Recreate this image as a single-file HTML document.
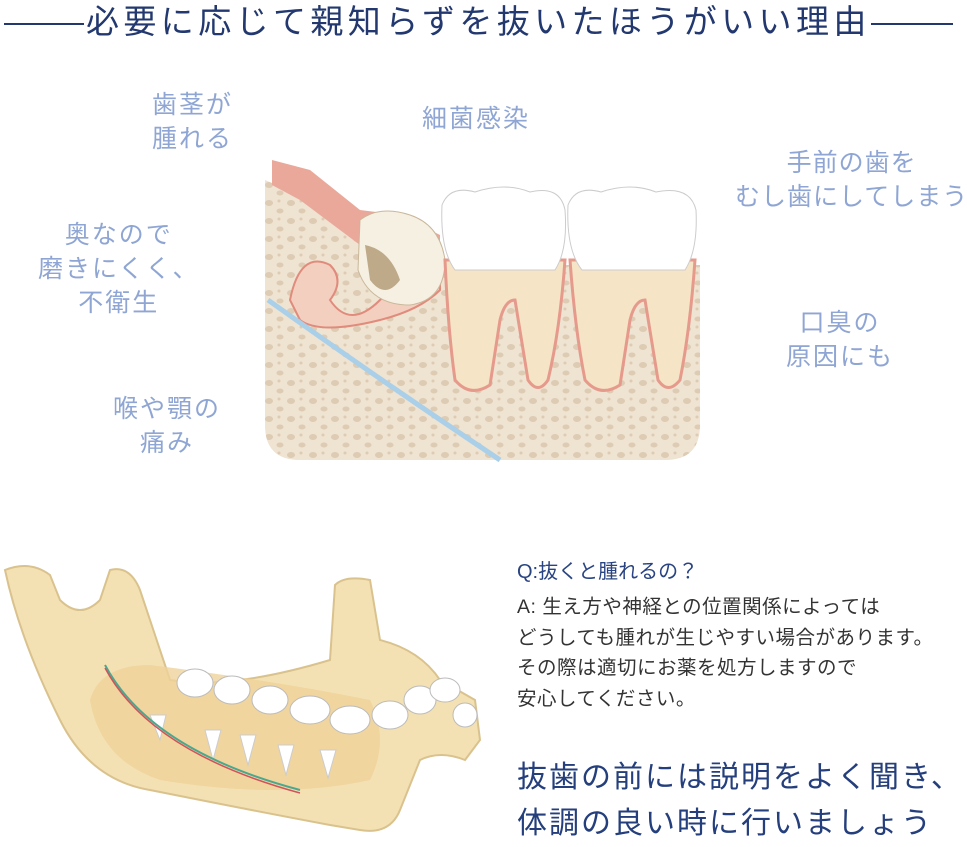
<!DOCTYPE html>
<html><head><meta charset="utf-8"><style>
body{margin:0;width:967px;height:846px;background:#fff;position:relative;overflow:hidden;font-family:"Liberation Sans","Noto Sans CJK JP",sans-serif}
.t{position:absolute;white-space:nowrap}
.lb{color:#8fa6d4;font-size:25px;line-height:34px;text-align:center;letter-spacing:2px}
</style></head><body>
<div class="t" style="left:4px;top:2px;font-size:33px;line-height:40px;color:#22386f;letter-spacing:4.4px">
<span style="display:inline-block;width:80px;border-top:2px solid #22386f;vertical-align:middle;margin-right:2px"></span>必要に応じて親知らずを抜いたほうがいい理由<span style="display:inline-block;width:82px;border-top:2px solid #22386f;vertical-align:middle"></span></div>

<div class="t lb" style="left:152px;top:88px">歯茎が<br>腫れる</div>
<div class="t lb" style="left:422px;top:102px">細菌感染</div>
<div class="t lb" style="left:735px;top:146px;letter-spacing:1px">手前の歯を<br>むし歯にしてしまう</div>
<div class="t lb" style="left:38px;top:218px">奥なので<br>磨きにくく、<br>不衛生</div>
<div class="t lb" style="left:786px;top:306px">口臭の<br>原因にも</div>
<div class="t lb" style="left:113px;top:392px">喉や顎の<br>痛み</div>

<svg class="t" style="left:0;top:0" width="967" height="846">
<defs><pattern id="d" width="22" height="18" patternUnits="userSpaceOnUse"><ellipse cx="5" cy="5" rx="4" ry="3" fill="#ddcbb3"/><ellipse cx="16" cy="13" rx="3.5" ry="2.5" fill="#ddcbb3"/><circle cx="15" cy="3" r="1.5" fill="#ddcbb3"/></pattern></defs>
<path d="M265 180 L300 195 L355 240 L440 240 L440 265 L700 265 L700 425 Q700 460 665 460 L300 460 Q265 460 265 425 Z" fill="#efe3d1"/>
<path d="M265 180 L300 195 L355 240 L440 240 L440 265 L700 265 L700 425 Q700 460 665 460 L300 460 Q265 460 265 425 Z" fill="url(#d)"/>
<path d="M272 160 L310 170 L360 210 L400 215 L440 235 L440 260 L360 245 L300 200 L272 185Z" fill="#e9a89a"/>
<path d="M290 300 Q300 250 330 265 Q345 280 330 300 Q350 330 380 300 L420 260 L440 260 L440 290 Q420 310 380 320 Q320 335 300 320Z" fill="#f3cfc0" stroke="#e08b7c" stroke-width="2"/>
<path d="M360 220 Q380 205 410 215 Q440 225 445 260 Q445 300 410 305 Q370 305 358 270Z" fill="#f6f0e2" stroke="#c9b79a"/>
<path d="M365 245 Q390 250 400 280 Q385 300 370 280Z" fill="#9a7a4f" opacity=".6"/>
<path d="M268 300 Q380 380 500 460" stroke="#a9cfe9" stroke-width="5" fill="none"/>
<g fill="#f6e4c6" stroke="#e59a8c" stroke-width="3">
<path d="M445 260 L565 260 Q560 330 548 380 Q538 395 528 380 L515 300 Q505 300 500 320 L490 385 Q470 398 455 380 Q448 330 445 260Z"/>
<path d="M570 260 L695 260 Q690 330 680 380 Q668 395 658 380 L645 300 Q635 300 630 320 L620 385 Q600 398 585 380 Q575 330 570 260Z"/>
</g>
<path d="M442 205 Q450 185 475 192 Q505 182 530 192 Q560 185 565 210 Q568 250 555 270 L455 270 Q440 250 442 205Z" fill="#fff" stroke="#ccc"/>
<path d="M568 205 Q576 185 601 192 Q631 182 656 192 Q690 185 696 210 Q698 250 685 270 L582 270 Q566 250 568 205Z" fill="#fff" stroke="#ccc"/>

<path d="M5 570 Q30 560 50 575 L60 600 Q80 620 100 600 L110 570 Q130 565 140 590 L170 680 Q230 690 330 660 L335 585 Q345 575 370 580 L380 640 Q420 650 440 680 L475 700 L480 740 L465 760 Q440 750 420 760 L400 810 Q390 835 360 830 L330 825 Q250 810 150 790 Q90 780 60 720 Q20 640 5 570Z" fill="#f4e1b3" stroke="#d9c28d" stroke-width="2"/>
<path d="M90 700 Q100 665 150 665 Q270 680 370 700 Q390 740 370 780 Q280 800 160 780 Q100 760 90 700Z" fill="#efd29a" opacity=".8"/>
<g fill="#fff" stroke="#ccc"><path d="M205 730 l8 30 l8 -30Z"/><path d="M240 735 l8 30 l8 -30Z"/><path d="M278 745 l8 30 l8 -30Z"/><path d="M320 750 l8 28 l8 -28Z"/><path d="M150 715 l10 25 l6 -25Z"/></g>
<path d="M105 665 Q150 750 300 790" stroke="#4aa88f" stroke-width="2" fill="none"/>
<path d="M105 668 Q150 752 300 793" stroke="#d0525a" stroke-width="1.5" fill="none"/>
<g fill="#fff" stroke="#bbb"><ellipse cx="195" cy="683" rx="18" ry="14"/><ellipse cx="232" cy="690" rx="18" ry="14"/><ellipse cx="270" cy="700" rx="18" ry="14"/><ellipse cx="310" cy="710" rx="20" ry="14"/><ellipse cx="350" cy="720" rx="20" ry="14"/><ellipse cx="390" cy="715" rx="18" ry="14"/><ellipse cx="420" cy="700" rx="16" ry="14"/><ellipse cx="445" cy="690" rx="15" ry="12"/><ellipse cx="465" cy="715" rx="12" ry="12"/></g>
</svg>

<div class="t" style="left:517px;top:558px;font-size:20px;line-height:28px;color:#2a4482">Q:抜くと腫れるの？</div>
<div class="t" style="left:517px;top:592px;font-size:19.5px;line-height:30.5px;color:#333;letter-spacing:0.5px">A: 生え方や神経との位置関係によっては<br>どうしても腫れが生じやすい場合があります。<br>その際は適切にお薬を処方しますので<br>安心してください。</div>
<div class="t" style="left:517px;top:755px;font-size:30px;line-height:46px;color:#253f7c;letter-spacing:2px">抜歯の前には説明をよく聞き、<br>体調の良い時に行いましょう</div>
</body></html>
